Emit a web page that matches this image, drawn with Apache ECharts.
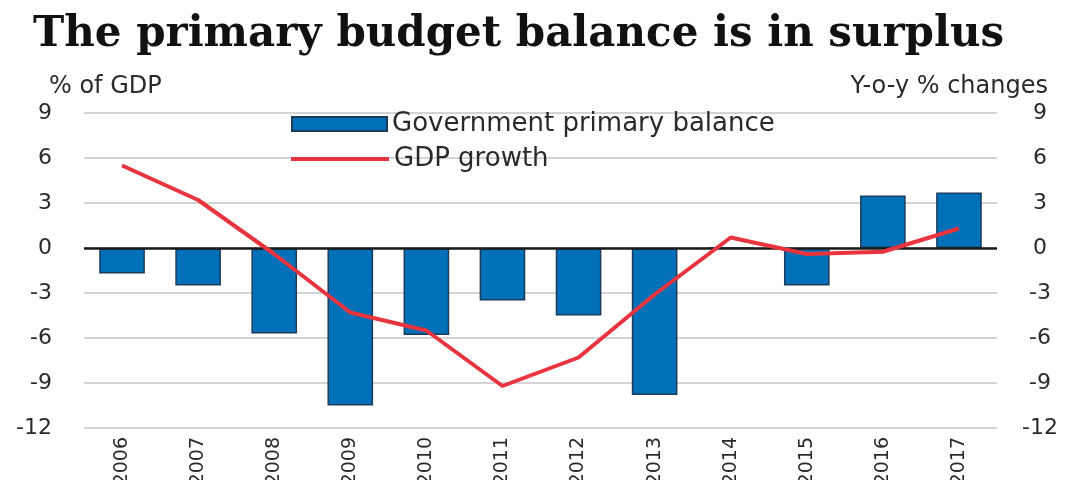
<!DOCTYPE html>
<html>
<head>
<meta charset="utf-8">
<script src="https://cdn.jsdelivr.net/npm/echarts@6/dist/echarts.min.js"></script>
<style>
  html, body { margin: 0; padding: 0; background: #fff; }
  #chart { width: 1079px; height: 480px; }
</style>
</head>
<body>
<div id="chart"></div>
<script>
// Years on the category axis
const years = ['2006', '2007', '2008', '2009', '2010', '2011', '2012', '2013', '2014', '2015', '2016', '2017'];
// Government primary balance, % of GDP (left axis)
const primaryBalance = [-1.7, -2.5, -5.7, -10.5, -5.8, -3.5, -4.5, -9.8, 0, -2.5, 3.5, 3.7];
// Real GDP growth, y-o-y % changes (right axis)
const gdpGrowth = [5.5, 3.2, -0.4, -4.3, -5.5, -9.2, -7.3, -3.1, 0.7, -0.4, -0.25, 1.3];
// Shared tick range for both value axes
const axisMin = -12, axisMax = 9, axisStep = 3;

const titleText = 'The primary budget balance is in surplus';
const leftUnit = '% of GDP';
const rightUnit = 'Y-o-y % changes';
const barName = 'Government primary balance';
const lineName = 'GDP growth';

const sans = 'DejaVu Sans';
const textColor = '#2a2a2a';
const barBlue = '#0070b8';
const lineRed = '#e8343f';

const chart = echarts.init(document.getElementById('chart'), null, { renderer: 'canvas' });

chart.setOption({
  animation: false,
  backgroundColor: '#ffffff',
  title: [
    {
      text: titleText,
      left: 28, top: 9,
      textStyle: { fontFamily: 'DejaVu Serif', fontWeight: 'bold', fontSize: 42, color: '#111' }
    },
    {
      text: leftUnit,
      left: 44, top: 70,
      textStyle: { fontFamily: sans, fontWeight: 'normal', fontSize: 24, color: textColor }
    },
    {
      text: rightUnit,
      right: 26, top: 70,
      textStyle: { fontFamily: sans, fontWeight: 'normal', fontSize: 24, color: textColor }
    }
  ],
  legend: [
    {
      data: [{ name: barName, icon: 'rect' }],
      left: 286, top: 106,
      itemWidth: 95, itemHeight: 14,
      textStyle: { fontFamily: sans, fontSize: 26, color: textColor },
      selectedMode: false
    },
    {
      data: [{ name: lineName, icon: 'rect', itemStyle: { color: lineRed } }],
      left: 286, top: 141,
      itemWidth: 98, itemHeight: 4,
      textStyle: { fontFamily: sans, fontSize: 26, color: textColor },
      selectedMode: false
    }
  ],
  grid: { left: 84, right: 82, top: 113, bottom: 52, containLabel: false, outerBoundsMode: 'none' },
  xAxis: {
    type: 'category',
    data: years,
    axisLine: { show: false },
    axisTick: { show: false },
    axisLabel: {
      rotate: 90, margin: 9, interval: 0,
      fontFamily: sans, fontSize: 19, color: textColor
    },
    splitLine: { show: false }
  },
  yAxis: [
    {
      type: 'value',
      min: axisMin, max: axisMax, interval: axisStep,
      axisLine: { show: false },
      axisTick: { show: false },
      axisLabel: { margin: 32, fontFamily: sans, fontSize: 22, color: textColor },
      splitLine: { show: true, lineStyle: { color: '#d4d4d4', width: 2 } }
    },
    {
      type: 'value',
      min: axisMin, max: axisMax, interval: axisStep,
      position: 'right',
      axisLine: { show: false },
      axisTick: { show: false },
      axisLabel: { margin: 43, align: 'center', fontFamily: sans, fontSize: 22, color: textColor },
      splitLine: { show: false }
    }
  ],
  series: [
    {
      name: barName,
      type: 'bar',
      yAxisIndex: 0,
      data: primaryBalance,
      barWidth: '60%',
      itemStyle: { color: barBlue, borderColor: '#1d3c5c', borderWidth: 1.5 },
      markLine: {
        silent: true,
        symbol: 'none',
        label: { show: false },
        lineStyle: { color: '#1a1a1a', width: 2.5, type: 'solid' },
        data: [{ yAxis: 0 }]
      },
      z: 2
    },
    {
      name: lineName,
      type: 'line',
      yAxisIndex: 1,
      data: gdpGrowth,
      symbol: 'none',
      showSymbol: false,
      lineStyle: { color: lineRed, width: 4 },
      itemStyle: { color: lineRed },
      z: 5
    }
  ]
});
</script>
</body>
</html>
